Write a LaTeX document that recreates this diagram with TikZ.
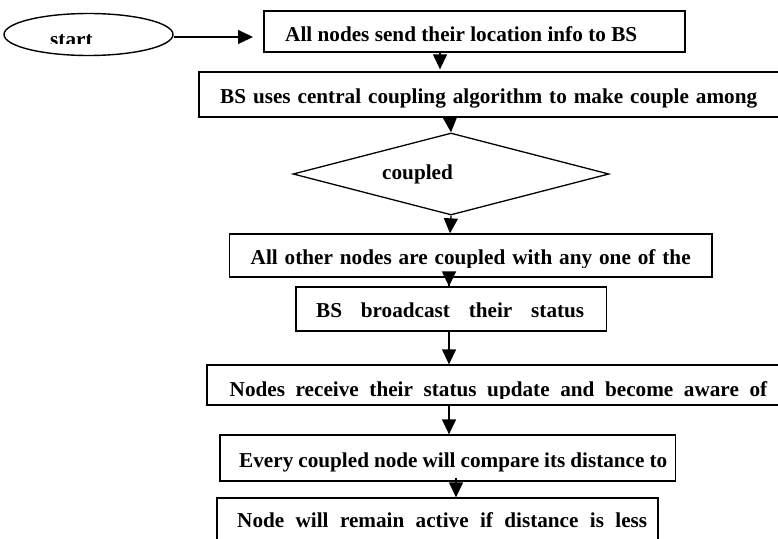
\documentclass[tikz,border=0pt]{standalone}
\usepackage{fontspec}
\setmainfont{Liberation Serif}
\usetikzlibrary{shapes.geometric,arrows.meta}
\begin{document}
\begin{tikzpicture}[x=1pt,y=-1pt,
  box/.style={draw,line width=1.3pt,rectangle,inner sep=0pt},
  txt/.style={anchor=base west,inner sep=0pt,font=\fontsize{21.2}{25}\selectfont\bfseries},
  arr/.style={line width=1.3pt,-{Triangle[length=15pt,width=14pt]}}]
\useasboundingbox (0,0) rectangle (778,538);
\clip (0,0) rectangle (778,538);
% shapes
\node[draw,ellipse,line width=1.4pt,minimum width=169pt,minimum height=42pt,inner sep=0pt] (start) at (88.5,34.5) {};
\node[box,minimum width=421pt,minimum height=41pt] (b1) at (474.5,31.5) {};
\node[box,minimum width=601pt,minimum height=45pt] (b2) at (499.5,94.5) {};
\node[draw,diamond,line width=1.3pt,minimum width=316pt,minimum height=82pt,inner sep=0pt] (d) at (451,174) {};
\node[box,minimum width=482.5pt,minimum height=43pt] (b3) at (470.75,255.5) {};
\node[box,minimum width=310.6pt,minimum height=44pt] (b4) at (451.3,309) {};
\node[box,minimum width=593pt,minimum height=40pt] (b5) at (503.5,385) {};
\node[box,minimum width=455.5pt,minimum height=46pt] (b6) at (447.75,458) {};
\node[box,minimum width=441pt,minimum height=62pt] (b7) at (437.5,529) {};
% texts
\begin{scope}
\clip (0,0) rectangle (778,43);
\node[txt] (tstart) at (50,46.5) {\makebox[40pt][s]{start}};
\end{scope}
\node[txt] (t1) at (285,41.7) {\makebox[352pt][s]{All nodes send their location info to BS}};
\node[txt] (t2) at (220,103) {\makebox[537pt][s]{BS uses central coupling algorithm to make couple among}};
\node[txt] (tc) at (382,179) {coupled};
\begin{scope}
\clip (0,0) rectangle (778,267);
\node[txt] (t3) at (250.5,264) {\makebox[440pt][s]{All other nodes are coupled with any one of the}};
\end{scope}
\node[txt] (t4) at (316,317) {\makebox[268pt][s]{BS broadcast their status}};
\begin{scope}
\clip (0,0) rectangle (778,398.5);
\node[txt] (t5) at (229.5,396.5) {\makebox[537.5pt][s]{Nodes receive their status update and become aware of}};
\end{scope}
\node[txt] (t6) at (239,467) {\makebox[428pt][s]{Every coupled node will compare its distance to}};
\node[txt] (t7) at (237,527) {\makebox[410pt][s]{Node will remain active if distance is less}};
% arrow columns
\coordinate (x1) at (440,0);
\coordinate (x2) at (450,0);
\coordinate (x3) at (449,0);
\coordinate (x4) at (456,0);
\coordinate (a0end) at (253,37);
% connectors
\draw[arr] (start.east |- a0end) -- (a0end);
\draw[arr,shorten >=2pt] (x1 |- b1.south) -- (x1 |- b2.north);
\draw[arr] (x2 |- b2.south) -- (d.north);
\draw[arr] (d.south) -- (x2 |- b3.north);
\draw[arr,shorten <=-8pt] (x3 |- b3.south) -- (x3 |- b4.north);
\draw[arr] (x3 |- b4.south) -- (x3 |- b5.north);
\draw[arr] (x3 |- b5.south) -- (x3 |- b6.north);
\draw[arr,shorten <=-4pt] (x4 |- b6.south) -- (x4 |- b7.north);
\end{tikzpicture}
\end{document}
